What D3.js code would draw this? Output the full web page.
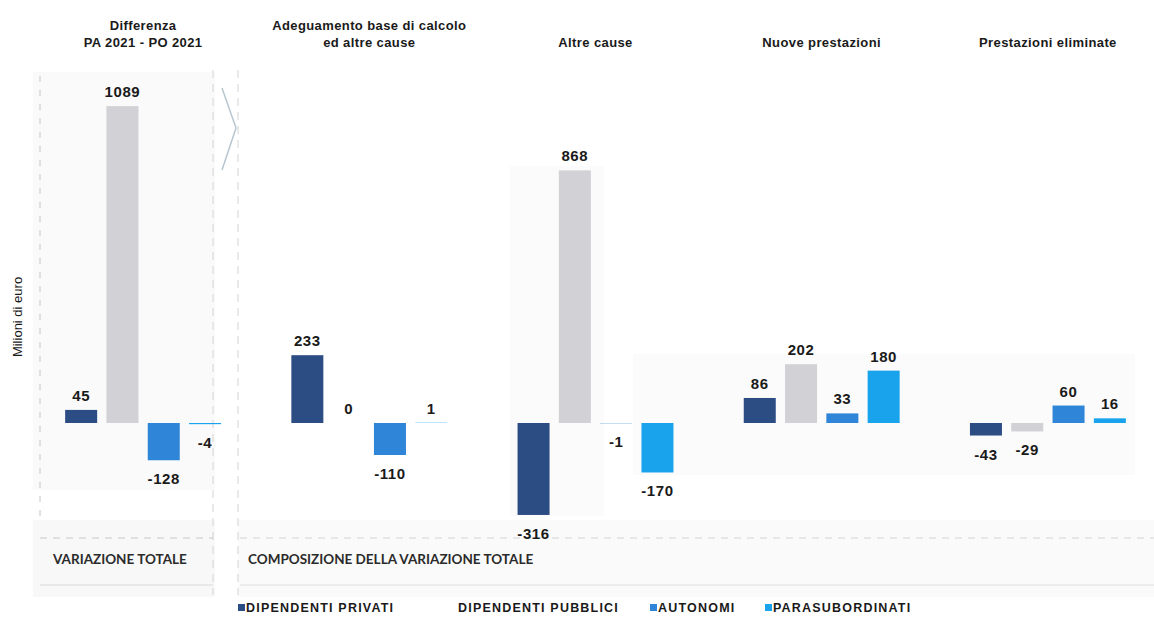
<!DOCTYPE html>
<html>
<head>
<meta charset="utf-8">
<script src="https://cdn.jsdelivr.net/npm/d3@7"></script>
<style>
  body { margin: 0; background: #fff; }
  svg { display: block; font-family: "Liberation Sans", Arial, sans-serif; }
  .title { font-size: 13px; font-weight: bold; fill: #1a1a1a; letter-spacing: 0.4px; }
  .value { font-size: 15px; font-weight: bold; fill: #1a1a1a; letter-spacing: 0.6px; }
  .box-label { font-family: Lato, sans-serif; font-size: 13.5px; font-weight: bold; fill: #2b2b2b; }
  .legend-label { font-size: 12.5px; font-weight: bold; fill: #1a1a1a; letter-spacing: 1.2px; }
</style>
</head>
<body>
<div id="chart"></div>
<script>
// categories (one panel each)
const groupTitles = [
    ['Differenza', 'PA 2021 - PO 2021'],
    ['Adeguamento base di calcolo', 'ed altre cause'],
    ['Altre cause'],
    ['Nuove prestazioni'],
    ['Prestazioni eliminate']
];

// series
const seriesNames = ['DIPENDENTI PRIVATI', 'DIPENDENTI PUBBLICI', 'AUTONOMI', 'PARASUBORDINATI'];
const privati = [45, 233, -316, 86, -43];
const pubblici = [1089, 0, 868, 202, -29];
const autonomi = [-128, -110, -1, 33, 60];
const parasubordinati = [-4, 1, -170, 180, 16];

const seriesColors = ['#2c4c84', '#d1d1d6', '#2f85d7', '#19a3ec'];

class GroupedBars {

    constructor(_config) {
        this.config = {
            parentElement: _config.parentElement,
            containerWidth: _config.containerWidth || 1154,
            containerHeight: _config.containerHeight || 618
        }
        this.initVis();
    }

    initVis() {
        let vis = this;

        vis.svg = d3.select(vis.config.parentElement).append('svg')
            .attr('width', vis.config.containerWidth)
            .attr('height', vis.config.containerHeight);

        // outer scale: one band per panel
        vis.x0 = d3.scaleBand()
            .domain(d3.range(groupTitles.length))
            .range([30, 1161]);

        // inner scale: one band per series, centred in the panel
        let span = 165;
        let off = (vis.x0.bandwidth() - span) / 2;
        vis.x1 = d3.scaleBand()
            .domain(seriesNames)
            .range([off, off + span])
            .paddingInner(0.225)
            .paddingOuter(0.11);

        vis.y = d3.scaleLinear()
            .domain([-400, 1200])
            .range([539.4, 73.8]);

        vis.color = d3.scaleOrdinal()
            .domain(seriesNames)
            .range(seriesColors);

        vis.drawFrame();
        vis.updateVis();
    }

    updateVis() {
        let vis = this;
        let cols = [privati, pubblici, autonomi, parasubordinati];
        vis.data = [];
        groupTitles.forEach((t, i) => {
            seriesNames.forEach((s, j) => {
                vis.data.push({ group: i, series: s, value: cols[j][i] });
            });
        });
        vis.renderVis();
    }

    renderVis() {
        let vis = this;
        const y0 = vis.y(0);

        // panel titles
        vis.svg.selectAll('.title')
            .data(groupTitles)
            .join('text')
            .attr('class', 'title')
            .attr('text-anchor', 'middle')
            .attr('x', (d, i) => vis.x0(i) + vis.x0.bandwidth() / 2)
            .attr('y', d => d.length > 1 ? 30 : 47)
            .selectAll('tspan')
            .data(d => d)
            .join('tspan')
            .attr('x', function () { return d3.select(this.parentNode).attr('x'); })
            .attr('dy', (d, i) => i ? 17 : 0)
            .text(d => d);

        const bx = d => vis.x0(d.group) + vis.x1(d.series);

        vis.svg.selectAll('.bar')
            .data(vis.data)
            .join('rect')
            .attr('class', 'bar')
            .attr('x', bx)
            .attr('width', vis.x1.bandwidth())
            .attr('y', d => Math.min(vis.y(d.value), y0))
            .attr('height', d => Math.abs(vis.y(d.value) - y0))
            .attr('fill', d => vis.color(d.series));

        vis.svg.selectAll('.value')
            .data(vis.data)
            .join('text')
            .attr('class', 'value')
            .attr('text-anchor', 'middle')
            .attr('x', d => bx(d) + vis.x1.bandwidth() / 2)
            .attr('y', d => d.value >= 0 ? vis.y(d.value) - 9 : vis.y(d.value) + 24)
            .text(d => d.value);

        // legend
        const legendX = [238, 450, 650, 765];
        const lg = vis.svg.selectAll('.legend')
            .data(seriesNames)
            .join('g')
            .attr('class', 'legend')
            .attr('transform', (d, i) => `translate(${legendX[i]},612)`);
        lg.filter((d, i) => i !== 1).append('rect')
            .attr('x', 0).attr('y', -8)
            .attr('width', 7).attr('height', 7)
            .attr('fill', d => vis.color(d));
        lg.append('text')
            .attr('class', 'legend-label')
            .attr('x', 8)
            .text(d => d);
    }

    // faint scanned panels, separators and footer boxes
    drawFrame() {
        let vis = this;
        const bg = vis.svg.append('g');
        bg.append('rect').attr('x', 33).attr('y', 72).attr('width', 182).attr('height', 418).attr('fill', '#fafafa');
        bg.append('rect').attr('x', 510).attr('y', 166).attr('width', 94).attr('height', 350).attr('fill', '#fbfbfb');
        bg.append('rect').attr('x', 633).attr('y', 354).attr('width', 502).attr('height', 121).attr('fill', '#fbfbfb');
        bg.append('rect').attr('x', 33).attr('y', 520).attr('width', 182).attr('height', 77).attr('fill', '#f8f8f8');
        bg.append('rect').attr('x', 238).attr('y', 520).attr('width', 916).attr('height', 77).attr('fill', '#fafafa');

        const line = (x1, y1, x2, y2, dash, col) => bg.append('line')
            .attr('x1', x1).attr('y1', y1).attr('x2', x2).attr('y2', y2)
            .attr('stroke', col || '#c4c4c4')
            .attr('stroke-width', 1)
            .attr('stroke-dasharray', dash || null);

        line(40, 76, 40, 520, '6,8', '#c4c4c4');
        line(213, 70, 213, 595, '8,6', '#d4d4d4');
        line(238, 70, 238, 595, '8,6', '#d4d4d4');
        line(40, 538, 213, 538, '7,6', '#c8c8c8');
        line(240, 538, 1154, 538, '7,6', '#d4d4d4');
        line(40, 585, 213, 585, null, '#dadada');
        line(240, 585, 1154, 585, null, '#e0e0e0');

        // chevron between the two sections
        bg.append('path')
            .attr('d', 'M222,88 L236,128 L222,170')
            .attr('fill', 'none')
            .attr('stroke', '#b8c6cf')
            .attr('stroke-width', 1.5);

        vis.svg.append('text')
            .attr('class', 'box-label')
            .attr('x', 53).attr('y', 564)
            .text('VARIAZIONE TOTALE');
        vis.svg.append('text')
            .attr('class', 'box-label')
            .attr('x', 248).attr('y', 564)
            .text('COMPOSIZIONE DELLA VARIAZIONE TOTALE');

        vis.svg.append('text')
            .attr('transform', 'translate(22,317) rotate(-90)')
            .attr('text-anchor', 'middle')
            .attr('font-size', 13)
            .attr('fill', '#1a1a1a')
            .text('Milioni di euro');
    }
}

new GroupedBars({ parentElement: '#chart' });
</script>
</body>
</html>
